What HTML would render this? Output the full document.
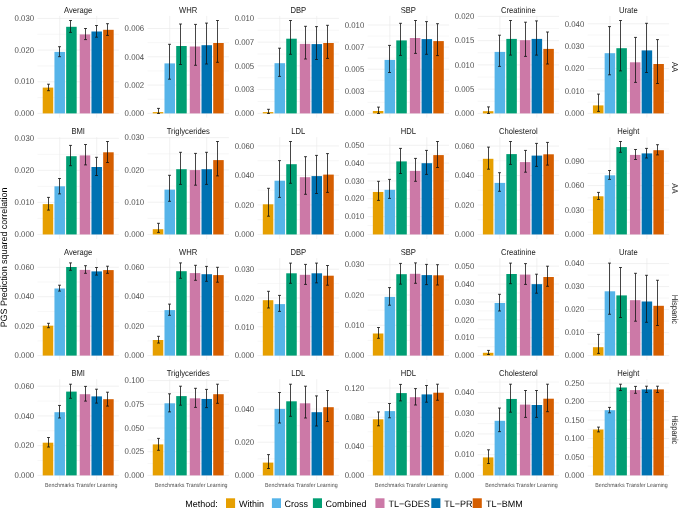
<!DOCTYPE html><html><head><meta charset="utf-8"><title>PGS Prediction</title><style>html,body{margin:0;padding:0;background:#fff;overflow:hidden}svg{display:block;will-change:transform;text-rendering:geometricPrecision}</style></head><body><svg width="685" height="508" viewBox="0 0 685 508" font-family="Liberation Sans, sans-serif">
<rect width="685" height="508" fill="#fff"/>
<path d="M37.50 97.58H118.90" stroke="#ebebeb" stroke-width="0.4"/><path d="M37.50 65.93H118.90" stroke="#ebebeb" stroke-width="0.4"/><path d="M37.50 34.28H118.90" stroke="#ebebeb" stroke-width="0.4"/><path d="M37.50 113.40H118.90" stroke="#ebebeb" stroke-width="0.7"/><path d="M37.50 81.75H118.90" stroke="#ebebeb" stroke-width="0.7"/><path d="M37.50 50.10H118.90" stroke="#ebebeb" stroke-width="0.7"/><path d="M37.50 18.45H118.90" stroke="#ebebeb" stroke-width="0.7"/><path d="M59.70 15.90V117.70" stroke="#ebebeb" stroke-width="0.7"/><path d="M96.70 15.90V117.70" stroke="#ebebeb" stroke-width="0.7"/><rect x="42.72" y="87.60" width="10.52" height="25.80" fill="#E69F00"/><rect x="54.44" y="51.90" width="10.52" height="61.50" fill="#56B4E9"/><rect x="66.16" y="26.80" width="10.52" height="86.60" fill="#009E73"/><rect x="79.72" y="34.40" width="10.52" height="79.00" fill="#CC79A7"/><rect x="91.44" y="31.50" width="10.52" height="81.90" fill="#0072B2"/><rect x="103.16" y="29.80" width="10.52" height="83.60" fill="#D55E00"/><path d="M47.00 84.20h3.0M47.00 90.70h3.0M48.50 84.20V90.70" stroke="#111" stroke-width="0.78" fill="none"/><path d="M58.00 46.70h3.0M58.00 56.70h3.0M59.50 46.70V56.70" stroke="#111" stroke-width="0.78" fill="none"/><path d="M69.00 20.50h3.0M69.00 32.40h3.0M70.50 20.50V32.40" stroke="#111" stroke-width="0.78" fill="none"/><path d="M84.00 28.50h3.0M84.00 39.60h3.0M85.50 28.50V39.60" stroke="#111" stroke-width="0.78" fill="none"/><path d="M95.00 25.50h3.0M95.00 37.20h3.0M96.50 25.50V37.20" stroke="#111" stroke-width="0.78" fill="none"/><path d="M106.00 23.70h3.0M106.00 35.40h3.0M107.50 23.70V35.40" stroke="#111" stroke-width="0.78" fill="none"/><text transform="translate(34.10 116.10) scale(1 1.08)" font-size="7.8" fill="#4d4d4d" text-anchor="end">0.000</text><text transform="translate(34.10 84.45) scale(1 1.08)" font-size="7.8" fill="#4d4d4d" text-anchor="end">0.010</text><text transform="translate(34.10 52.80) scale(1 1.08)" font-size="7.8" fill="#4d4d4d" text-anchor="end">0.020</text><text transform="translate(34.10 21.15) scale(1 1.08)" font-size="7.8" fill="#4d4d4d" text-anchor="end">0.030</text><text transform="translate(78.20 12.70) scale(1 1.12)" font-size="7.65" fill="#1a1a1a" text-anchor="middle">Average</text>
<path d="M147.54 99.25H228.94" stroke="#ebebeb" stroke-width="0.4"/><path d="M147.54 70.95H228.94" stroke="#ebebeb" stroke-width="0.4"/><path d="M147.54 42.65H228.94" stroke="#ebebeb" stroke-width="0.4"/><path d="M147.54 113.40H228.94" stroke="#ebebeb" stroke-width="0.7"/><path d="M147.54 85.10H228.94" stroke="#ebebeb" stroke-width="0.7"/><path d="M147.54 56.80H228.94" stroke="#ebebeb" stroke-width="0.7"/><path d="M147.54 28.50H228.94" stroke="#ebebeb" stroke-width="0.7"/><path d="M169.74 15.90V117.70" stroke="#ebebeb" stroke-width="0.7"/><path d="M206.74 15.90V117.70" stroke="#ebebeb" stroke-width="0.7"/><rect x="152.76" y="112.10" width="10.52" height="1.30" fill="#E69F00"/><rect x="164.48" y="63.40" width="10.52" height="50.00" fill="#56B4E9"/><rect x="176.20" y="46.00" width="10.52" height="67.40" fill="#009E73"/><rect x="189.76" y="46.50" width="10.52" height="66.90" fill="#CC79A7"/><rect x="201.48" y="45.20" width="10.52" height="68.20" fill="#0072B2"/><rect x="213.20" y="43.00" width="10.52" height="70.40" fill="#D55E00"/><path d="M157.00 108.40h3.0M157.00 113.50h3.0M158.50 108.40V113.50" stroke="#111" stroke-width="0.78" fill="none"/><path d="M168.00 44.30h3.0M168.00 79.20h3.0M169.50 44.30V79.20" stroke="#111" stroke-width="0.78" fill="none"/><path d="M179.00 24.00h3.0M179.00 64.50h3.0M180.50 24.00V64.50" stroke="#111" stroke-width="0.78" fill="none"/><path d="M194.00 24.40h3.0M194.00 65.30h3.0M195.50 24.40V65.30" stroke="#111" stroke-width="0.78" fill="none"/><path d="M205.00 23.10h3.0M205.00 64.00h3.0M206.50 23.10V64.00" stroke="#111" stroke-width="0.78" fill="none"/><path d="M216.00 20.50h3.0M216.00 62.30h3.0M217.50 20.50V62.30" stroke="#111" stroke-width="0.78" fill="none"/><text transform="translate(144.14 116.10) scale(1 1.08)" font-size="7.8" fill="#4d4d4d" text-anchor="end">0.000</text><text transform="translate(144.14 87.80) scale(1 1.08)" font-size="7.8" fill="#4d4d4d" text-anchor="end">0.002</text><text transform="translate(144.14 59.50) scale(1 1.08)" font-size="7.8" fill="#4d4d4d" text-anchor="end">0.004</text><text transform="translate(144.14 31.20) scale(1 1.08)" font-size="7.8" fill="#4d4d4d" text-anchor="end">0.006</text><text transform="translate(188.24 12.70) scale(1 1.12)" font-size="7.65" fill="#1a1a1a" text-anchor="middle">WHR</text>
<path d="M257.58 101.52H338.98" stroke="#ebebeb" stroke-width="0.4"/><path d="M257.58 77.76H338.98" stroke="#ebebeb" stroke-width="0.4"/><path d="M257.58 54.00H338.98" stroke="#ebebeb" stroke-width="0.4"/><path d="M257.58 30.24H338.98" stroke="#ebebeb" stroke-width="0.4"/><path d="M257.58 113.40H338.98" stroke="#ebebeb" stroke-width="0.7"/><path d="M257.58 89.64H338.98" stroke="#ebebeb" stroke-width="0.7"/><path d="M257.58 65.88H338.98" stroke="#ebebeb" stroke-width="0.7"/><path d="M257.58 42.12H338.98" stroke="#ebebeb" stroke-width="0.7"/><path d="M257.58 18.36H338.98" stroke="#ebebeb" stroke-width="0.7"/><path d="M279.78 15.90V117.70" stroke="#ebebeb" stroke-width="0.7"/><path d="M316.78 15.90V117.70" stroke="#ebebeb" stroke-width="0.7"/><rect x="262.80" y="112.10" width="10.52" height="1.30" fill="#E69F00"/><rect x="274.52" y="63.20" width="10.52" height="50.20" fill="#56B4E9"/><rect x="286.24" y="38.70" width="10.52" height="74.70" fill="#009E73"/><rect x="299.80" y="43.90" width="10.52" height="69.50" fill="#CC79A7"/><rect x="311.52" y="44.10" width="10.52" height="69.30" fill="#0072B2"/><rect x="323.24" y="43.00" width="10.52" height="70.40" fill="#D55E00"/><path d="M267.00 109.30h3.0M267.00 113.50h3.0M268.50 109.30V113.50" stroke="#111" stroke-width="0.78" fill="none"/><path d="M278.00 48.20h3.0M278.00 76.40h3.0M279.50 48.20V76.40" stroke="#111" stroke-width="0.78" fill="none"/><path d="M289.00 20.50h3.0M289.00 54.30h3.0M290.50 20.50V54.30" stroke="#111" stroke-width="0.78" fill="none"/><path d="M304.00 26.30h3.0M304.00 59.00h3.0M305.50 26.30V59.00" stroke="#111" stroke-width="0.78" fill="none"/><path d="M315.00 26.60h3.0M315.00 59.50h3.0M316.50 26.60V59.50" stroke="#111" stroke-width="0.78" fill="none"/><path d="M326.00 25.30h3.0M326.00 58.40h3.0M327.50 25.30V58.40" stroke="#111" stroke-width="0.78" fill="none"/><text transform="translate(254.18 116.10) scale(1 1.08)" font-size="7.8" fill="#4d4d4d" text-anchor="end">0.000</text><text transform="translate(254.18 92.34) scale(1 1.08)" font-size="7.8" fill="#4d4d4d" text-anchor="end">0.003</text><text transform="translate(254.18 68.58) scale(1 1.08)" font-size="7.8" fill="#4d4d4d" text-anchor="end">0.005</text><text transform="translate(254.18 44.82) scale(1 1.08)" font-size="7.8" fill="#4d4d4d" text-anchor="end">0.007</text><text transform="translate(254.18 21.06) scale(1 1.08)" font-size="7.8" fill="#4d4d4d" text-anchor="end">0.010</text><text transform="translate(298.28 12.70) scale(1 1.12)" font-size="7.65" fill="#1a1a1a" text-anchor="middle">DBP</text>
<path d="M367.62 102.35H449.02" stroke="#ebebeb" stroke-width="0.4"/><path d="M367.62 80.25H449.02" stroke="#ebebeb" stroke-width="0.4"/><path d="M367.62 58.15H449.02" stroke="#ebebeb" stroke-width="0.4"/><path d="M367.62 36.05H449.02" stroke="#ebebeb" stroke-width="0.4"/><path d="M367.62 113.40H449.02" stroke="#ebebeb" stroke-width="0.7"/><path d="M367.62 91.30H449.02" stroke="#ebebeb" stroke-width="0.7"/><path d="M367.62 69.20H449.02" stroke="#ebebeb" stroke-width="0.7"/><path d="M367.62 47.10H449.02" stroke="#ebebeb" stroke-width="0.7"/><path d="M367.62 25.00H449.02" stroke="#ebebeb" stroke-width="0.7"/><path d="M389.82 15.90V117.70" stroke="#ebebeb" stroke-width="0.7"/><path d="M426.82 15.90V117.70" stroke="#ebebeb" stroke-width="0.7"/><rect x="372.84" y="111.00" width="10.52" height="2.40" fill="#E69F00"/><rect x="384.56" y="59.90" width="10.52" height="53.50" fill="#56B4E9"/><rect x="396.28" y="40.40" width="10.52" height="73.00" fill="#009E73"/><rect x="409.84" y="38.00" width="10.52" height="75.40" fill="#CC79A7"/><rect x="421.56" y="39.10" width="10.52" height="74.30" fill="#0072B2"/><rect x="433.28" y="41.10" width="10.52" height="72.30" fill="#D55E00"/><path d="M377.00 107.10h3.0M377.00 113.50h3.0M378.50 107.10V113.50" stroke="#111" stroke-width="0.78" fill="none"/><path d="M388.00 45.40h3.0M388.00 72.50h3.0M389.50 45.40V72.50" stroke="#111" stroke-width="0.78" fill="none"/><path d="M399.00 23.30h3.0M399.00 55.40h3.0M400.50 23.30V55.40" stroke="#111" stroke-width="0.78" fill="none"/><path d="M414.00 20.50h3.0M414.00 53.40h3.0M415.50 20.50V53.40" stroke="#111" stroke-width="0.78" fill="none"/><path d="M425.00 21.60h3.0M425.00 54.30h3.0M426.50 21.60V54.30" stroke="#111" stroke-width="0.78" fill="none"/><path d="M436.00 23.70h3.0M436.00 55.60h3.0M437.50 23.70V55.60" stroke="#111" stroke-width="0.78" fill="none"/><text transform="translate(364.22 116.10) scale(1 1.08)" font-size="7.8" fill="#4d4d4d" text-anchor="end">0.000</text><text transform="translate(364.22 94.00) scale(1 1.08)" font-size="7.8" fill="#4d4d4d" text-anchor="end">0.003</text><text transform="translate(364.22 71.90) scale(1 1.08)" font-size="7.8" fill="#4d4d4d" text-anchor="end">0.005</text><text transform="translate(364.22 49.80) scale(1 1.08)" font-size="7.8" fill="#4d4d4d" text-anchor="end">0.007</text><text transform="translate(364.22 27.70) scale(1 1.08)" font-size="7.8" fill="#4d4d4d" text-anchor="end">0.010</text><text transform="translate(408.32 12.70) scale(1 1.12)" font-size="7.65" fill="#1a1a1a" text-anchor="middle">SBP</text>
<path d="M477.66 101.28H559.06" stroke="#ebebeb" stroke-width="0.4"/><path d="M477.66 77.03H559.06" stroke="#ebebeb" stroke-width="0.4"/><path d="M477.66 52.78H559.06" stroke="#ebebeb" stroke-width="0.4"/><path d="M477.66 28.53H559.06" stroke="#ebebeb" stroke-width="0.4"/><path d="M477.66 113.40H559.06" stroke="#ebebeb" stroke-width="0.7"/><path d="M477.66 89.15H559.06" stroke="#ebebeb" stroke-width="0.7"/><path d="M477.66 64.90H559.06" stroke="#ebebeb" stroke-width="0.7"/><path d="M477.66 40.65H559.06" stroke="#ebebeb" stroke-width="0.7"/><path d="M477.66 16.40H559.06" stroke="#ebebeb" stroke-width="0.7"/><path d="M499.86 15.90V117.70" stroke="#ebebeb" stroke-width="0.7"/><path d="M536.86 15.90V117.70" stroke="#ebebeb" stroke-width="0.7"/><rect x="482.88" y="111.20" width="10.52" height="2.20" fill="#E69F00"/><rect x="494.60" y="51.90" width="10.52" height="61.50" fill="#56B4E9"/><rect x="506.32" y="38.90" width="10.52" height="74.50" fill="#009E73"/><rect x="519.88" y="40.20" width="10.52" height="73.20" fill="#CC79A7"/><rect x="531.60" y="38.90" width="10.52" height="74.50" fill="#0072B2"/><rect x="543.32" y="48.90" width="10.52" height="64.50" fill="#D55E00"/><path d="M487.00 106.90h3.0M487.00 113.50h3.0M488.50 106.90V113.50" stroke="#111" stroke-width="0.78" fill="none"/><path d="M498.00 35.20h3.0M498.00 66.40h3.0M499.50 35.20V66.40" stroke="#111" stroke-width="0.78" fill="none"/><path d="M509.00 20.50h3.0M509.00 55.10h3.0M510.50 20.50V55.10" stroke="#111" stroke-width="0.78" fill="none"/><path d="M524.00 22.20h3.0M524.00 56.40h3.0M525.50 22.20V56.40" stroke="#111" stroke-width="0.78" fill="none"/><path d="M535.00 20.90h3.0M535.00 55.10h3.0M536.50 20.90V55.10" stroke="#111" stroke-width="0.78" fill="none"/><path d="M546.00 32.00h3.0M546.00 64.00h3.0M547.50 32.00V64.00" stroke="#111" stroke-width="0.78" fill="none"/><text transform="translate(474.26 116.10) scale(1 1.08)" font-size="7.8" fill="#4d4d4d" text-anchor="end">0.000</text><text transform="translate(474.26 91.85) scale(1 1.08)" font-size="7.8" fill="#4d4d4d" text-anchor="end">0.005</text><text transform="translate(474.26 67.60) scale(1 1.08)" font-size="7.8" fill="#4d4d4d" text-anchor="end">0.010</text><text transform="translate(474.26 43.35) scale(1 1.08)" font-size="7.8" fill="#4d4d4d" text-anchor="end">0.015</text><text transform="translate(474.26 19.10) scale(1 1.08)" font-size="7.8" fill="#4d4d4d" text-anchor="end">0.020</text><text transform="translate(518.36 12.70) scale(1 1.12)" font-size="7.65" fill="#1a1a1a" text-anchor="middle">Creatinine</text>
<path d="M587.70 102.20H669.10" stroke="#ebebeb" stroke-width="0.4"/><path d="M587.70 79.80H669.10" stroke="#ebebeb" stroke-width="0.4"/><path d="M587.70 57.40H669.10" stroke="#ebebeb" stroke-width="0.4"/><path d="M587.70 35.00H669.10" stroke="#ebebeb" stroke-width="0.4"/><path d="M587.70 113.40H669.10" stroke="#ebebeb" stroke-width="0.7"/><path d="M587.70 91.00H669.10" stroke="#ebebeb" stroke-width="0.7"/><path d="M587.70 68.60H669.10" stroke="#ebebeb" stroke-width="0.7"/><path d="M587.70 46.20H669.10" stroke="#ebebeb" stroke-width="0.7"/><path d="M587.70 23.80H669.10" stroke="#ebebeb" stroke-width="0.7"/><path d="M609.90 15.90V117.70" stroke="#ebebeb" stroke-width="0.7"/><path d="M646.90 15.90V117.70" stroke="#ebebeb" stroke-width="0.7"/><rect x="592.92" y="105.40" width="10.52" height="8.00" fill="#E69F00"/><rect x="604.64" y="53.20" width="10.52" height="60.20" fill="#56B4E9"/><rect x="616.36" y="48.20" width="10.52" height="65.20" fill="#009E73"/><rect x="629.92" y="62.30" width="10.52" height="51.10" fill="#CC79A7"/><rect x="641.64" y="50.40" width="10.52" height="63.00" fill="#0072B2"/><rect x="653.36" y="64.00" width="10.52" height="49.40" fill="#D55E00"/><path d="M597.00 94.10h3.0M597.00 111.40h3.0M598.50 94.10V111.40" stroke="#111" stroke-width="0.78" fill="none"/><path d="M608.00 26.60h3.0M608.00 74.80h3.0M609.50 26.60V74.80" stroke="#111" stroke-width="0.78" fill="none"/><path d="M619.00 20.50h3.0M619.00 70.90h3.0M620.50 20.50V70.90" stroke="#111" stroke-width="0.78" fill="none"/><path d="M634.00 37.40h3.0M634.00 82.40h3.0M635.50 37.40V82.40" stroke="#111" stroke-width="0.78" fill="none"/><path d="M645.00 23.30h3.0M645.00 72.50h3.0M646.50 23.30V72.50" stroke="#111" stroke-width="0.78" fill="none"/><path d="M656.00 39.60h3.0M656.00 83.50h3.0M657.50 39.60V83.50" stroke="#111" stroke-width="0.78" fill="none"/><text transform="translate(584.30 116.10) scale(1 1.08)" font-size="7.8" fill="#4d4d4d" text-anchor="end">0.000</text><text transform="translate(584.30 93.70) scale(1 1.08)" font-size="7.8" fill="#4d4d4d" text-anchor="end">0.010</text><text transform="translate(584.30 71.30) scale(1 1.08)" font-size="7.8" fill="#4d4d4d" text-anchor="end">0.020</text><text transform="translate(584.30 48.90) scale(1 1.08)" font-size="7.8" fill="#4d4d4d" text-anchor="end">0.030</text><text transform="translate(584.30 26.50) scale(1 1.08)" font-size="7.8" fill="#4d4d4d" text-anchor="end">0.040</text><text transform="translate(628.40 12.70) scale(1 1.12)" font-size="7.65" fill="#1a1a1a" text-anchor="middle">Urate</text>
<text transform="translate(672.00 67.10) rotate(90) scale(1 1.12)" font-size="7.65" fill="#1a1a1a" text-anchor="middle">AA</text>
<path d="M37.50 218.42H118.90" stroke="#ebebeb" stroke-width="0.4"/><path d="M37.50 186.38H118.90" stroke="#ebebeb" stroke-width="0.4"/><path d="M37.50 154.32H118.90" stroke="#ebebeb" stroke-width="0.4"/><path d="M37.50 234.45H118.90" stroke="#ebebeb" stroke-width="0.7"/><path d="M37.50 202.40H118.90" stroke="#ebebeb" stroke-width="0.7"/><path d="M37.50 170.35H118.90" stroke="#ebebeb" stroke-width="0.7"/><path d="M37.50 138.30H118.90" stroke="#ebebeb" stroke-width="0.7"/><path d="M59.70 137.20V239.00" stroke="#ebebeb" stroke-width="0.7"/><path d="M96.70 137.20V239.00" stroke="#ebebeb" stroke-width="0.7"/><rect x="42.72" y="204.10" width="10.52" height="30.35" fill="#E69F00"/><rect x="54.44" y="186.30" width="10.52" height="48.15" fill="#56B4E9"/><rect x="66.16" y="156.20" width="10.52" height="78.25" fill="#009E73"/><rect x="79.72" y="155.40" width="10.52" height="79.05" fill="#CC79A7"/><rect x="91.44" y="167.00" width="10.52" height="67.45" fill="#0072B2"/><rect x="103.16" y="152.30" width="10.52" height="82.15" fill="#D55E00"/><path d="M47.00 197.40h3.0M47.00 210.10h3.0M48.50 197.40V210.10" stroke="#111" stroke-width="0.78" fill="none"/><path d="M58.00 178.50h3.0M58.00 193.90h3.0M59.50 178.50V193.90" stroke="#111" stroke-width="0.78" fill="none"/><path d="M69.00 145.40h3.0M69.00 165.70h3.0M70.50 145.40V165.70" stroke="#111" stroke-width="0.78" fill="none"/><path d="M84.00 144.50h3.0M84.00 164.90h3.0M85.50 144.50V164.90" stroke="#111" stroke-width="0.78" fill="none"/><path d="M95.00 157.30h3.0M95.00 175.50h3.0M96.50 157.30V175.50" stroke="#111" stroke-width="0.78" fill="none"/><path d="M106.00 141.50h3.0M106.00 162.50h3.0M107.50 141.50V162.50" stroke="#111" stroke-width="0.78" fill="none"/><text transform="translate(34.10 237.15) scale(1 1.08)" font-size="7.8" fill="#4d4d4d" text-anchor="end">0.000</text><text transform="translate(34.10 205.10) scale(1 1.08)" font-size="7.8" fill="#4d4d4d" text-anchor="end">0.010</text><text transform="translate(34.10 173.05) scale(1 1.08)" font-size="7.8" fill="#4d4d4d" text-anchor="end">0.020</text><text transform="translate(34.10 141.00) scale(1 1.08)" font-size="7.8" fill="#4d4d4d" text-anchor="end">0.030</text><text transform="translate(78.20 134.00) scale(1 1.12)" font-size="7.65" fill="#1a1a1a" text-anchor="middle">BMI</text>
<path d="M147.54 218.32H228.94" stroke="#ebebeb" stroke-width="0.4"/><path d="M147.54 186.06H228.94" stroke="#ebebeb" stroke-width="0.4"/><path d="M147.54 153.80H228.94" stroke="#ebebeb" stroke-width="0.4"/><path d="M147.54 234.45H228.94" stroke="#ebebeb" stroke-width="0.7"/><path d="M147.54 202.19H228.94" stroke="#ebebeb" stroke-width="0.7"/><path d="M147.54 169.93H228.94" stroke="#ebebeb" stroke-width="0.7"/><path d="M147.54 137.67H228.94" stroke="#ebebeb" stroke-width="0.7"/><path d="M169.74 137.20V239.00" stroke="#ebebeb" stroke-width="0.7"/><path d="M206.74 137.20V239.00" stroke="#ebebeb" stroke-width="0.7"/><rect x="152.76" y="229.20" width="10.52" height="5.25" fill="#E69F00"/><rect x="164.48" y="189.60" width="10.52" height="44.85" fill="#56B4E9"/><rect x="176.20" y="169.20" width="10.52" height="65.25" fill="#009E73"/><rect x="189.76" y="170.10" width="10.52" height="64.35" fill="#CC79A7"/><rect x="201.48" y="169.20" width="10.52" height="65.25" fill="#0072B2"/><rect x="213.20" y="160.10" width="10.52" height="74.35" fill="#D55E00"/><path d="M157.00 223.30h3.0M157.00 232.40h3.0M158.50 223.30V232.40" stroke="#111" stroke-width="0.78" fill="none"/><path d="M168.00 175.30h3.0M168.00 201.30h3.0M169.50 175.30V201.30" stroke="#111" stroke-width="0.78" fill="none"/><path d="M179.00 152.30h3.0M179.00 184.40h3.0M180.50 152.30V184.40" stroke="#111" stroke-width="0.78" fill="none"/><path d="M194.00 153.40h3.0M194.00 185.20h3.0M195.50 153.40V185.20" stroke="#111" stroke-width="0.78" fill="none"/><path d="M205.00 152.30h3.0M205.00 184.40h3.0M206.50 152.30V184.40" stroke="#111" stroke-width="0.78" fill="none"/><path d="M216.00 141.50h3.0M216.00 175.90h3.0M217.50 141.50V175.90" stroke="#111" stroke-width="0.78" fill="none"/><text transform="translate(144.14 237.15) scale(1 1.08)" font-size="7.8" fill="#4d4d4d" text-anchor="end">0.000</text><text transform="translate(144.14 204.89) scale(1 1.08)" font-size="7.8" fill="#4d4d4d" text-anchor="end">0.010</text><text transform="translate(144.14 172.63) scale(1 1.08)" font-size="7.8" fill="#4d4d4d" text-anchor="end">0.020</text><text transform="translate(144.14 140.37) scale(1 1.08)" font-size="7.8" fill="#4d4d4d" text-anchor="end">0.030</text><text transform="translate(188.24 134.00) scale(1 1.12)" font-size="7.65" fill="#1a1a1a" text-anchor="middle">Triglycerides</text>
<path d="M257.58 219.70H338.98" stroke="#ebebeb" stroke-width="0.4"/><path d="M257.58 190.20H338.98" stroke="#ebebeb" stroke-width="0.4"/><path d="M257.58 160.70H338.98" stroke="#ebebeb" stroke-width="0.4"/><path d="M257.58 234.45H338.98" stroke="#ebebeb" stroke-width="0.7"/><path d="M257.58 204.95H338.98" stroke="#ebebeb" stroke-width="0.7"/><path d="M257.58 175.45H338.98" stroke="#ebebeb" stroke-width="0.7"/><path d="M257.58 145.95H338.98" stroke="#ebebeb" stroke-width="0.7"/><path d="M279.78 137.20V239.00" stroke="#ebebeb" stroke-width="0.7"/><path d="M316.78 137.20V239.00" stroke="#ebebeb" stroke-width="0.7"/><rect x="262.80" y="204.30" width="10.52" height="30.15" fill="#E69F00"/><rect x="274.52" y="180.70" width="10.52" height="53.75" fill="#56B4E9"/><rect x="286.24" y="164.20" width="10.52" height="70.25" fill="#009E73"/><rect x="299.80" y="177.20" width="10.52" height="57.25" fill="#CC79A7"/><rect x="311.52" y="176.10" width="10.52" height="58.35" fill="#0072B2"/><rect x="323.24" y="174.60" width="10.52" height="59.85" fill="#D55E00"/><path d="M267.00 188.30h3.0M267.00 216.20h3.0M268.50 188.30V216.20" stroke="#111" stroke-width="0.78" fill="none"/><path d="M278.00 160.60h3.0M278.00 197.40h3.0M279.50 160.60V197.40" stroke="#111" stroke-width="0.78" fill="none"/><path d="M289.00 141.50h3.0M289.00 183.30h3.0M290.50 141.50V183.30" stroke="#111" stroke-width="0.78" fill="none"/><path d="M304.00 156.70h3.0M304.00 194.30h3.0M305.50 156.70V194.30" stroke="#111" stroke-width="0.78" fill="none"/><path d="M315.00 155.40h3.0M315.00 193.50h3.0M316.50 155.40V193.50" stroke="#111" stroke-width="0.78" fill="none"/><path d="M326.00 153.60h3.0M326.00 192.40h3.0M327.50 153.60V192.40" stroke="#111" stroke-width="0.78" fill="none"/><text transform="translate(254.18 237.15) scale(1 1.08)" font-size="7.8" fill="#4d4d4d" text-anchor="end">0.000</text><text transform="translate(254.18 207.65) scale(1 1.08)" font-size="7.8" fill="#4d4d4d" text-anchor="end">0.020</text><text transform="translate(254.18 178.15) scale(1 1.08)" font-size="7.8" fill="#4d4d4d" text-anchor="end">0.040</text><text transform="translate(254.18 148.65) scale(1 1.08)" font-size="7.8" fill="#4d4d4d" text-anchor="end">0.060</text><text transform="translate(298.28 134.00) scale(1 1.12)" font-size="7.65" fill="#1a1a1a" text-anchor="middle">LDL</text>
<path d="M367.62 225.53H449.02" stroke="#ebebeb" stroke-width="0.4"/><path d="M367.62 207.69H449.02" stroke="#ebebeb" stroke-width="0.4"/><path d="M367.62 189.85H449.02" stroke="#ebebeb" stroke-width="0.4"/><path d="M367.62 172.01H449.02" stroke="#ebebeb" stroke-width="0.4"/><path d="M367.62 154.17H449.02" stroke="#ebebeb" stroke-width="0.4"/><path d="M367.62 234.45H449.02" stroke="#ebebeb" stroke-width="0.7"/><path d="M367.62 216.61H449.02" stroke="#ebebeb" stroke-width="0.7"/><path d="M367.62 198.77H449.02" stroke="#ebebeb" stroke-width="0.7"/><path d="M367.62 180.93H449.02" stroke="#ebebeb" stroke-width="0.7"/><path d="M367.62 163.09H449.02" stroke="#ebebeb" stroke-width="0.7"/><path d="M367.62 145.25H449.02" stroke="#ebebeb" stroke-width="0.7"/><path d="M389.82 137.20V239.00" stroke="#ebebeb" stroke-width="0.7"/><path d="M426.82 137.20V239.00" stroke="#ebebeb" stroke-width="0.7"/><rect x="372.84" y="191.95" width="10.52" height="42.50" fill="#E69F00"/><rect x="384.56" y="189.80" width="10.52" height="44.65" fill="#56B4E9"/><rect x="396.28" y="161.40" width="10.52" height="73.05" fill="#009E73"/><rect x="409.84" y="170.90" width="10.52" height="63.55" fill="#CC79A7"/><rect x="421.56" y="163.20" width="10.52" height="71.25" fill="#0072B2"/><rect x="433.28" y="155.10" width="10.52" height="79.35" fill="#D55E00"/><path d="M377.00 181.30h3.0M377.00 200.40h3.0M378.50 181.30V200.40" stroke="#111" stroke-width="0.78" fill="none"/><path d="M388.00 179.40h3.0M388.00 198.40h3.0M389.50 179.40V198.40" stroke="#111" stroke-width="0.78" fill="none"/><path d="M399.00 148.40h3.0M399.00 173.50h3.0M400.50 148.40V173.50" stroke="#111" stroke-width="0.78" fill="none"/><path d="M414.00 158.40h3.0M414.00 181.30h3.0M415.50 158.40V181.30" stroke="#111" stroke-width="0.78" fill="none"/><path d="M425.00 150.40h3.0M425.00 174.40h3.0M426.50 150.40V174.40" stroke="#111" stroke-width="0.78" fill="none"/><path d="M436.00 141.50h3.0M436.00 167.50h3.0M437.50 141.50V167.50" stroke="#111" stroke-width="0.78" fill="none"/><text transform="translate(364.22 237.15) scale(1 1.08)" font-size="7.8" fill="#4d4d4d" text-anchor="end">0.000</text><text transform="translate(364.22 219.31) scale(1 1.08)" font-size="7.8" fill="#4d4d4d" text-anchor="end">0.010</text><text transform="translate(364.22 201.47) scale(1 1.08)" font-size="7.8" fill="#4d4d4d" text-anchor="end">0.020</text><text transform="translate(364.22 183.63) scale(1 1.08)" font-size="7.8" fill="#4d4d4d" text-anchor="end">0.030</text><text transform="translate(364.22 165.79) scale(1 1.08)" font-size="7.8" fill="#4d4d4d" text-anchor="end">0.040</text><text transform="translate(364.22 147.95) scale(1 1.08)" font-size="7.8" fill="#4d4d4d" text-anchor="end">0.050</text><text transform="translate(408.32 134.00) scale(1 1.12)" font-size="7.65" fill="#1a1a1a" text-anchor="middle">HDL</text>
<path d="M477.66 219.72H559.06" stroke="#ebebeb" stroke-width="0.4"/><path d="M477.66 190.27H559.06" stroke="#ebebeb" stroke-width="0.4"/><path d="M477.66 160.82H559.06" stroke="#ebebeb" stroke-width="0.4"/><path d="M477.66 234.45H559.06" stroke="#ebebeb" stroke-width="0.7"/><path d="M477.66 205.00H559.06" stroke="#ebebeb" stroke-width="0.7"/><path d="M477.66 175.55H559.06" stroke="#ebebeb" stroke-width="0.7"/><path d="M477.66 146.10H559.06" stroke="#ebebeb" stroke-width="0.7"/><path d="M499.86 137.20V239.00" stroke="#ebebeb" stroke-width="0.7"/><path d="M536.86 137.20V239.00" stroke="#ebebeb" stroke-width="0.7"/><rect x="482.88" y="158.80" width="10.52" height="75.65" fill="#E69F00"/><rect x="494.60" y="182.90" width="10.52" height="51.55" fill="#56B4E9"/><rect x="506.32" y="154.10" width="10.52" height="80.35" fill="#009E73"/><rect x="519.88" y="162.10" width="10.52" height="72.35" fill="#CC79A7"/><rect x="531.60" y="155.60" width="10.52" height="78.85" fill="#0072B2"/><rect x="543.32" y="154.30" width="10.52" height="80.15" fill="#D55E00"/><path d="M487.00 147.10h3.0M487.00 169.20h3.0M488.50 147.10V169.20" stroke="#111" stroke-width="0.78" fill="none"/><path d="M498.00 172.70h3.0M498.00 191.30h3.0M499.50 172.70V191.30" stroke="#111" stroke-width="0.78" fill="none"/><path d="M509.00 141.50h3.0M509.00 164.40h3.0M510.50 141.50V164.40" stroke="#111" stroke-width="0.78" fill="none"/><path d="M524.00 150.40h3.0M524.00 172.20h3.0M525.50 150.40V172.20" stroke="#111" stroke-width="0.78" fill="none"/><path d="M535.00 143.40h3.0M535.00 166.40h3.0M536.50 143.40V166.40" stroke="#111" stroke-width="0.78" fill="none"/><path d="M546.00 142.40h3.0M546.00 165.10h3.0M547.50 142.40V165.10" stroke="#111" stroke-width="0.78" fill="none"/><text transform="translate(474.26 237.15) scale(1 1.08)" font-size="7.8" fill="#4d4d4d" text-anchor="end">0.000</text><text transform="translate(474.26 207.70) scale(1 1.08)" font-size="7.8" fill="#4d4d4d" text-anchor="end">0.020</text><text transform="translate(474.26 178.25) scale(1 1.08)" font-size="7.8" fill="#4d4d4d" text-anchor="end">0.040</text><text transform="translate(474.26 148.80) scale(1 1.08)" font-size="7.8" fill="#4d4d4d" text-anchor="end">0.060</text><text transform="translate(518.36 134.00) scale(1 1.12)" font-size="7.65" fill="#1a1a1a" text-anchor="middle">Cholesterol</text>
<path d="M587.70 222.23H669.10" stroke="#ebebeb" stroke-width="0.4"/><path d="M587.70 197.81H669.10" stroke="#ebebeb" stroke-width="0.4"/><path d="M587.70 173.38H669.10" stroke="#ebebeb" stroke-width="0.4"/><path d="M587.70 148.94H669.10" stroke="#ebebeb" stroke-width="0.4"/><path d="M587.70 234.45H669.10" stroke="#ebebeb" stroke-width="0.7"/><path d="M587.70 210.02H669.10" stroke="#ebebeb" stroke-width="0.7"/><path d="M587.70 185.59H669.10" stroke="#ebebeb" stroke-width="0.7"/><path d="M587.70 161.16H669.10" stroke="#ebebeb" stroke-width="0.7"/><path d="M609.90 137.20V239.00" stroke="#ebebeb" stroke-width="0.7"/><path d="M646.90 137.20V239.00" stroke="#ebebeb" stroke-width="0.7"/><rect x="592.92" y="196.30" width="10.52" height="38.15" fill="#E69F00"/><rect x="604.64" y="175.30" width="10.52" height="59.15" fill="#56B4E9"/><rect x="616.36" y="147.10" width="10.52" height="87.35" fill="#009E73"/><rect x="629.92" y="154.90" width="10.52" height="79.55" fill="#CC79A7"/><rect x="641.64" y="153.40" width="10.52" height="81.05" fill="#0072B2"/><rect x="653.36" y="150.20" width="10.52" height="84.25" fill="#D55E00"/><path d="M597.00 192.40h3.0M597.00 199.50h3.0M598.50 192.40V199.50" stroke="#111" stroke-width="0.78" fill="none"/><path d="M608.00 170.50h3.0M608.00 179.40h3.0M609.50 170.50V179.40" stroke="#111" stroke-width="0.78" fill="none"/><path d="M619.00 141.50h3.0M619.00 152.30h3.0M620.50 141.50V152.30" stroke="#111" stroke-width="0.78" fill="none"/><path d="M634.00 149.50h3.0M634.00 159.50h3.0M635.50 149.50V159.50" stroke="#111" stroke-width="0.78" fill="none"/><path d="M645.00 148.40h3.0M645.00 158.00h3.0M646.50 148.40V158.00" stroke="#111" stroke-width="0.78" fill="none"/><path d="M656.00 144.70h3.0M656.00 154.90h3.0M657.50 144.70V154.90" stroke="#111" stroke-width="0.78" fill="none"/><text transform="translate(584.30 237.15) scale(1 1.08)" font-size="7.8" fill="#4d4d4d" text-anchor="end">0.000</text><text transform="translate(584.30 212.72) scale(1 1.08)" font-size="7.8" fill="#4d4d4d" text-anchor="end">0.030</text><text transform="translate(584.30 188.29) scale(1 1.08)" font-size="7.8" fill="#4d4d4d" text-anchor="end">0.060</text><text transform="translate(584.30 163.86) scale(1 1.08)" font-size="7.8" fill="#4d4d4d" text-anchor="end">0.090</text><text transform="translate(628.40 134.00) scale(1 1.12)" font-size="7.65" fill="#1a1a1a" text-anchor="middle">Height</text>
<text transform="translate(672.00 188.40) rotate(90) scale(1 1.12)" font-size="7.65" fill="#1a1a1a" text-anchor="middle">AA</text>
<path d="M37.50 340.88H118.90" stroke="#ebebeb" stroke-width="0.4"/><path d="M37.50 311.43H118.90" stroke="#ebebeb" stroke-width="0.4"/><path d="M37.50 281.98H118.90" stroke="#ebebeb" stroke-width="0.4"/><path d="M37.50 355.60H118.90" stroke="#ebebeb" stroke-width="0.7"/><path d="M37.50 326.15H118.90" stroke="#ebebeb" stroke-width="0.7"/><path d="M37.50 296.70H118.90" stroke="#ebebeb" stroke-width="0.7"/><path d="M37.50 267.25H118.90" stroke="#ebebeb" stroke-width="0.7"/><path d="M59.70 258.20V360.00" stroke="#ebebeb" stroke-width="0.7"/><path d="M96.70 258.20V360.00" stroke="#ebebeb" stroke-width="0.7"/><rect x="42.72" y="325.70" width="10.52" height="29.90" fill="#E69F00"/><rect x="54.44" y="288.50" width="10.52" height="67.10" fill="#56B4E9"/><rect x="66.16" y="267.00" width="10.52" height="88.60" fill="#009E73"/><rect x="79.72" y="269.90" width="10.52" height="85.70" fill="#CC79A7"/><rect x="91.44" y="271.40" width="10.52" height="84.20" fill="#0072B2"/><rect x="103.16" y="270.10" width="10.52" height="85.50" fill="#D55E00"/><path d="M47.00 323.30h3.0M47.00 327.70h3.0M48.50 323.30V327.70" stroke="#111" stroke-width="0.78" fill="none"/><path d="M58.00 285.20h3.0M58.00 291.10h3.0M59.50 285.20V291.10" stroke="#111" stroke-width="0.78" fill="none"/><path d="M69.00 262.90h3.0M69.00 270.30h3.0M70.50 262.90V270.30" stroke="#111" stroke-width="0.78" fill="none"/><path d="M84.00 265.70h3.0M84.00 273.30h3.0M85.50 265.70V273.30" stroke="#111" stroke-width="0.78" fill="none"/><path d="M95.00 267.50h3.0M95.00 275.10h3.0M96.50 267.50V275.10" stroke="#111" stroke-width="0.78" fill="none"/><path d="M106.00 266.20h3.0M106.00 273.30h3.0M107.50 266.20V273.30" stroke="#111" stroke-width="0.78" fill="none"/><text transform="translate(34.10 358.30) scale(1 1.08)" font-size="7.8" fill="#4d4d4d" text-anchor="end">0.000</text><text transform="translate(34.10 328.85) scale(1 1.08)" font-size="7.8" fill="#4d4d4d" text-anchor="end">0.020</text><text transform="translate(34.10 299.40) scale(1 1.08)" font-size="7.8" fill="#4d4d4d" text-anchor="end">0.040</text><text transform="translate(34.10 269.95) scale(1 1.08)" font-size="7.8" fill="#4d4d4d" text-anchor="end">0.060</text><text transform="translate(78.20 255.00) scale(1 1.12)" font-size="7.65" fill="#1a1a1a" text-anchor="middle">Average</text>
<path d="M147.54 340.88H228.94" stroke="#ebebeb" stroke-width="0.4"/><path d="M147.54 311.43H228.94" stroke="#ebebeb" stroke-width="0.4"/><path d="M147.54 281.98H228.94" stroke="#ebebeb" stroke-width="0.4"/><path d="M147.54 355.60H228.94" stroke="#ebebeb" stroke-width="0.7"/><path d="M147.54 326.15H228.94" stroke="#ebebeb" stroke-width="0.7"/><path d="M147.54 296.70H228.94" stroke="#ebebeb" stroke-width="0.7"/><path d="M147.54 267.25H228.94" stroke="#ebebeb" stroke-width="0.7"/><path d="M169.74 258.20V360.00" stroke="#ebebeb" stroke-width="0.7"/><path d="M206.74 258.20V360.00" stroke="#ebebeb" stroke-width="0.7"/><rect x="152.76" y="340.00" width="10.52" height="15.60" fill="#E69F00"/><rect x="164.48" y="310.10" width="10.52" height="45.50" fill="#56B4E9"/><rect x="176.20" y="271.20" width="10.52" height="84.40" fill="#009E73"/><rect x="189.76" y="273.10" width="10.52" height="82.50" fill="#CC79A7"/><rect x="201.48" y="274.20" width="10.52" height="81.40" fill="#0072B2"/><rect x="213.20" y="275.10" width="10.52" height="80.50" fill="#D55E00"/><path d="M157.00 336.30h3.0M157.00 343.05h3.0M158.50 336.30V343.05" stroke="#111" stroke-width="0.78" fill="none"/><path d="M168.00 304.10h3.0M168.00 315.30h3.0M169.50 304.10V315.30" stroke="#111" stroke-width="0.78" fill="none"/><path d="M179.00 262.90h3.0M179.00 278.30h3.0M180.50 262.90V278.30" stroke="#111" stroke-width="0.78" fill="none"/><path d="M194.00 265.30h3.0M194.00 280.30h3.0M195.50 265.30V280.30" stroke="#111" stroke-width="0.78" fill="none"/><path d="M205.00 266.40h3.0M205.00 281.30h3.0M206.50 266.40V281.30" stroke="#111" stroke-width="0.78" fill="none"/><path d="M216.00 267.30h3.0M216.00 282.20h3.0M217.50 267.30V282.20" stroke="#111" stroke-width="0.78" fill="none"/><text transform="translate(144.14 358.30) scale(1 1.08)" font-size="7.8" fill="#4d4d4d" text-anchor="end">0.000</text><text transform="translate(144.14 328.85) scale(1 1.08)" font-size="7.8" fill="#4d4d4d" text-anchor="end">0.020</text><text transform="translate(144.14 299.40) scale(1 1.08)" font-size="7.8" fill="#4d4d4d" text-anchor="end">0.040</text><text transform="translate(144.14 269.95) scale(1 1.08)" font-size="7.8" fill="#4d4d4d" text-anchor="end">0.060</text><text transform="translate(188.24 255.00) scale(1 1.12)" font-size="7.65" fill="#1a1a1a" text-anchor="middle">WHR</text>
<path d="M257.58 341.20H338.98" stroke="#ebebeb" stroke-width="0.4"/><path d="M257.58 312.40H338.98" stroke="#ebebeb" stroke-width="0.4"/><path d="M257.58 283.60H338.98" stroke="#ebebeb" stroke-width="0.4"/><path d="M257.58 355.60H338.98" stroke="#ebebeb" stroke-width="0.7"/><path d="M257.58 326.80H338.98" stroke="#ebebeb" stroke-width="0.7"/><path d="M257.58 298.00H338.98" stroke="#ebebeb" stroke-width="0.7"/><path d="M257.58 269.20H338.98" stroke="#ebebeb" stroke-width="0.7"/><path d="M279.78 258.20V360.00" stroke="#ebebeb" stroke-width="0.7"/><path d="M316.78 258.20V360.00" stroke="#ebebeb" stroke-width="0.7"/><rect x="262.80" y="300.20" width="10.52" height="55.40" fill="#E69F00"/><rect x="274.52" y="304.10" width="10.52" height="51.50" fill="#56B4E9"/><rect x="286.24" y="273.30" width="10.52" height="82.30" fill="#009E73"/><rect x="299.80" y="274.80" width="10.52" height="80.80" fill="#CC79A7"/><rect x="311.52" y="273.30" width="10.52" height="82.30" fill="#0072B2"/><rect x="323.24" y="275.70" width="10.52" height="79.90" fill="#D55E00"/><path d="M267.00 291.30h3.0M267.00 308.00h3.0M268.50 291.30V308.00" stroke="#111" stroke-width="0.78" fill="none"/><path d="M278.00 295.40h3.0M278.00 311.40h3.0M279.50 295.40V311.40" stroke="#111" stroke-width="0.78" fill="none"/><path d="M289.00 263.10h3.0M289.00 283.30h3.0M290.50 263.10V283.30" stroke="#111" stroke-width="0.78" fill="none"/><path d="M304.00 264.40h3.0M304.00 284.40h3.0M305.50 264.40V284.40" stroke="#111" stroke-width="0.78" fill="none"/><path d="M315.00 263.10h3.0M315.00 282.85h3.0M316.50 263.10V282.85" stroke="#111" stroke-width="0.78" fill="none"/><path d="M326.00 265.50h3.0M326.00 285.20h3.0M327.50 265.50V285.20" stroke="#111" stroke-width="0.78" fill="none"/><text transform="translate(254.18 358.30) scale(1 1.08)" font-size="7.8" fill="#4d4d4d" text-anchor="end">0.000</text><text transform="translate(254.18 329.50) scale(1 1.08)" font-size="7.8" fill="#4d4d4d" text-anchor="end">0.010</text><text transform="translate(254.18 300.70) scale(1 1.08)" font-size="7.8" fill="#4d4d4d" text-anchor="end">0.020</text><text transform="translate(254.18 271.90) scale(1 1.08)" font-size="7.8" fill="#4d4d4d" text-anchor="end">0.030</text><text transform="translate(298.28 255.00) scale(1 1.12)" font-size="7.65" fill="#1a1a1a" text-anchor="middle">DBP</text>
<path d="M367.62 340.45H449.02" stroke="#ebebeb" stroke-width="0.4"/><path d="M367.62 310.15H449.02" stroke="#ebebeb" stroke-width="0.4"/><path d="M367.62 279.85H449.02" stroke="#ebebeb" stroke-width="0.4"/><path d="M367.62 355.60H449.02" stroke="#ebebeb" stroke-width="0.7"/><path d="M367.62 325.30H449.02" stroke="#ebebeb" stroke-width="0.7"/><path d="M367.62 295.00H449.02" stroke="#ebebeb" stroke-width="0.7"/><path d="M367.62 264.70H449.02" stroke="#ebebeb" stroke-width="0.7"/><path d="M389.82 258.20V360.00" stroke="#ebebeb" stroke-width="0.7"/><path d="M426.82 258.20V360.00" stroke="#ebebeb" stroke-width="0.7"/><rect x="372.84" y="333.50" width="10.52" height="22.10" fill="#E69F00"/><rect x="384.56" y="296.90" width="10.52" height="58.70" fill="#56B4E9"/><rect x="396.28" y="274.20" width="10.52" height="81.40" fill="#009E73"/><rect x="409.84" y="273.80" width="10.52" height="81.80" fill="#CC79A7"/><rect x="421.56" y="275.10" width="10.52" height="80.50" fill="#0072B2"/><rect x="433.28" y="275.30" width="10.52" height="80.30" fill="#D55E00"/><path d="M377.00 327.50h3.0M377.00 338.30h3.0M378.50 327.50V338.30" stroke="#111" stroke-width="0.78" fill="none"/><path d="M388.00 287.60h3.0M388.00 305.20h3.0M389.50 287.60V305.20" stroke="#111" stroke-width="0.78" fill="none"/><path d="M399.00 263.40h3.0M399.00 284.15h3.0M400.50 263.40V284.15" stroke="#111" stroke-width="0.78" fill="none"/><path d="M414.00 262.90h3.0M414.00 283.30h3.0M415.50 262.90V283.30" stroke="#111" stroke-width="0.78" fill="none"/><path d="M425.00 264.40h3.0M425.00 284.60h3.0M426.50 264.40V284.60" stroke="#111" stroke-width="0.78" fill="none"/><path d="M436.00 264.70h3.0M436.00 285.00h3.0M437.50 264.70V285.00" stroke="#111" stroke-width="0.78" fill="none"/><text transform="translate(364.22 358.30) scale(1 1.08)" font-size="7.8" fill="#4d4d4d" text-anchor="end">0.000</text><text transform="translate(364.22 328.00) scale(1 1.08)" font-size="7.8" fill="#4d4d4d" text-anchor="end">0.010</text><text transform="translate(364.22 297.70) scale(1 1.08)" font-size="7.8" fill="#4d4d4d" text-anchor="end">0.020</text><text transform="translate(364.22 267.40) scale(1 1.08)" font-size="7.8" fill="#4d4d4d" text-anchor="end">0.030</text><text transform="translate(408.32 255.00) scale(1 1.12)" font-size="7.65" fill="#1a1a1a" text-anchor="middle">SBP</text>
<path d="M477.66 346.66H559.06" stroke="#ebebeb" stroke-width="0.4"/><path d="M477.66 328.77H559.06" stroke="#ebebeb" stroke-width="0.4"/><path d="M477.66 310.88H559.06" stroke="#ebebeb" stroke-width="0.4"/><path d="M477.66 292.99H559.06" stroke="#ebebeb" stroke-width="0.4"/><path d="M477.66 275.10H559.06" stroke="#ebebeb" stroke-width="0.4"/><path d="M477.66 355.60H559.06" stroke="#ebebeb" stroke-width="0.7"/><path d="M477.66 337.71H559.06" stroke="#ebebeb" stroke-width="0.7"/><path d="M477.66 319.82H559.06" stroke="#ebebeb" stroke-width="0.7"/><path d="M477.66 301.93H559.06" stroke="#ebebeb" stroke-width="0.7"/><path d="M477.66 284.04H559.06" stroke="#ebebeb" stroke-width="0.7"/><path d="M477.66 266.15H559.06" stroke="#ebebeb" stroke-width="0.7"/><path d="M499.86 258.20V360.00" stroke="#ebebeb" stroke-width="0.7"/><path d="M536.86 258.20V360.00" stroke="#ebebeb" stroke-width="0.7"/><rect x="482.88" y="352.80" width="10.52" height="2.80" fill="#E69F00"/><rect x="494.60" y="303.00" width="10.52" height="52.60" fill="#56B4E9"/><rect x="506.32" y="274.00" width="10.52" height="81.60" fill="#009E73"/><rect x="519.88" y="274.60" width="10.52" height="81.00" fill="#CC79A7"/><rect x="531.60" y="284.15" width="10.52" height="71.45" fill="#0072B2"/><rect x="543.32" y="277.00" width="10.52" height="78.60" fill="#D55E00"/><path d="M487.00 350.40h3.0M487.00 354.50h3.0M488.50 350.40V354.50" stroke="#111" stroke-width="0.78" fill="none"/><path d="M498.00 294.30h3.0M498.00 311.00h3.0M499.50 294.30V311.00" stroke="#111" stroke-width="0.78" fill="none"/><path d="M509.00 263.10h3.0M509.00 283.70h3.0M510.50 263.10V283.70" stroke="#111" stroke-width="0.78" fill="none"/><path d="M524.00 263.60h3.0M524.00 284.40h3.0M525.50 263.60V284.40" stroke="#111" stroke-width="0.78" fill="none"/><path d="M535.00 274.20h3.0M535.00 293.20h3.0M536.50 274.20V293.20" stroke="#111" stroke-width="0.78" fill="none"/><path d="M546.00 266.20h3.0M546.00 286.30h3.0M547.50 266.20V286.30" stroke="#111" stroke-width="0.78" fill="none"/><text transform="translate(474.26 358.30) scale(1 1.08)" font-size="7.8" fill="#4d4d4d" text-anchor="end">0.000</text><text transform="translate(474.26 340.41) scale(1 1.08)" font-size="7.8" fill="#4d4d4d" text-anchor="end">0.010</text><text transform="translate(474.26 322.52) scale(1 1.08)" font-size="7.8" fill="#4d4d4d" text-anchor="end">0.020</text><text transform="translate(474.26 304.63) scale(1 1.08)" font-size="7.8" fill="#4d4d4d" text-anchor="end">0.030</text><text transform="translate(474.26 286.74) scale(1 1.08)" font-size="7.8" fill="#4d4d4d" text-anchor="end">0.040</text><text transform="translate(474.26 268.85) scale(1 1.08)" font-size="7.8" fill="#4d4d4d" text-anchor="end">0.050</text><text transform="translate(518.36 255.00) scale(1 1.12)" font-size="7.65" fill="#1a1a1a" text-anchor="middle">Creatinine</text>
<path d="M587.70 344.10H669.10" stroke="#ebebeb" stroke-width="0.4"/><path d="M587.70 321.10H669.10" stroke="#ebebeb" stroke-width="0.4"/><path d="M587.70 298.10H669.10" stroke="#ebebeb" stroke-width="0.4"/><path d="M587.70 275.10H669.10" stroke="#ebebeb" stroke-width="0.4"/><path d="M587.70 355.60H669.10" stroke="#ebebeb" stroke-width="0.7"/><path d="M587.70 332.60H669.10" stroke="#ebebeb" stroke-width="0.7"/><path d="M587.70 309.60H669.10" stroke="#ebebeb" stroke-width="0.7"/><path d="M587.70 286.60H669.10" stroke="#ebebeb" stroke-width="0.7"/><path d="M587.70 263.60H669.10" stroke="#ebebeb" stroke-width="0.7"/><path d="M609.90 258.20V360.00" stroke="#ebebeb" stroke-width="0.7"/><path d="M646.90 258.20V360.00" stroke="#ebebeb" stroke-width="0.7"/><rect x="592.92" y="347.20" width="10.52" height="8.40" fill="#E69F00"/><rect x="604.64" y="291.30" width="10.52" height="64.30" fill="#56B4E9"/><rect x="616.36" y="295.40" width="10.52" height="60.20" fill="#009E73"/><rect x="629.92" y="300.20" width="10.52" height="55.40" fill="#CC79A7"/><rect x="641.64" y="301.50" width="10.52" height="54.10" fill="#0072B2"/><rect x="653.36" y="305.80" width="10.52" height="49.80" fill="#D55E00"/><path d="M597.00 334.40h3.0M597.00 353.40h3.0M598.50 334.40V353.40" stroke="#111" stroke-width="0.78" fill="none"/><path d="M608.00 263.10h3.0M608.00 314.25h3.0M609.50 263.10V314.25" stroke="#111" stroke-width="0.78" fill="none"/><path d="M619.00 267.50h3.0M619.00 317.50h3.0M620.50 267.50V317.50" stroke="#111" stroke-width="0.78" fill="none"/><path d="M634.00 273.30h3.0M634.00 321.20h3.0M635.50 273.30V321.20" stroke="#111" stroke-width="0.78" fill="none"/><path d="M645.00 275.30h3.0M645.00 322.30h3.0M646.50 275.30V322.30" stroke="#111" stroke-width="0.78" fill="none"/><path d="M656.00 280.25h3.0M656.00 325.50h3.0M657.50 280.25V325.50" stroke="#111" stroke-width="0.78" fill="none"/><text transform="translate(584.30 358.30) scale(1 1.08)" font-size="7.8" fill="#4d4d4d" text-anchor="end">0.000</text><text transform="translate(584.30 335.30) scale(1 1.08)" font-size="7.8" fill="#4d4d4d" text-anchor="end">0.010</text><text transform="translate(584.30 312.30) scale(1 1.08)" font-size="7.8" fill="#4d4d4d" text-anchor="end">0.020</text><text transform="translate(584.30 289.30) scale(1 1.08)" font-size="7.8" fill="#4d4d4d" text-anchor="end">0.030</text><text transform="translate(584.30 266.30) scale(1 1.08)" font-size="7.8" fill="#4d4d4d" text-anchor="end">0.040</text><text transform="translate(628.40 255.00) scale(1 1.12)" font-size="7.65" fill="#1a1a1a" text-anchor="middle">Urate</text>
<text transform="translate(672.00 309.40) rotate(90) scale(1 1.12)" font-size="7.65" fill="#1a1a1a" text-anchor="middle">Hispanic</text>
<path d="M37.50 460.53H118.90" stroke="#ebebeb" stroke-width="0.4"/><path d="M37.50 430.79H118.90" stroke="#ebebeb" stroke-width="0.4"/><path d="M37.50 401.05H118.90" stroke="#ebebeb" stroke-width="0.4"/><path d="M37.50 475.40H118.90" stroke="#ebebeb" stroke-width="0.7"/><path d="M37.50 445.66H118.90" stroke="#ebebeb" stroke-width="0.7"/><path d="M37.50 415.92H118.90" stroke="#ebebeb" stroke-width="0.7"/><path d="M37.50 386.18H118.90" stroke="#ebebeb" stroke-width="0.7"/><path d="M59.70 379.20V479.80" stroke="#ebebeb" stroke-width="0.7"/><path d="M96.70 379.20V479.80" stroke="#ebebeb" stroke-width="0.7"/><rect x="42.72" y="442.70" width="10.52" height="32.70" fill="#E69F00"/><rect x="54.44" y="412.20" width="10.52" height="63.20" fill="#56B4E9"/><rect x="66.16" y="391.60" width="10.52" height="83.80" fill="#009E73"/><rect x="79.72" y="394.20" width="10.52" height="81.20" fill="#CC79A7"/><rect x="91.44" y="396.40" width="10.52" height="79.00" fill="#0072B2"/><rect x="103.16" y="399.20" width="10.52" height="76.20" fill="#D55E00"/><path d="M47.00 437.50h3.0M47.00 447.00h3.0M48.50 437.50V447.00" stroke="#111" stroke-width="0.78" fill="none"/><path d="M58.00 405.45h3.0M58.00 418.00h3.0M59.50 405.45V418.00" stroke="#111" stroke-width="0.78" fill="none"/><path d="M69.00 384.20h3.0M69.00 398.30h3.0M70.50 384.20V398.30" stroke="#111" stroke-width="0.78" fill="none"/><path d="M84.00 386.40h3.0M84.00 401.10h3.0M85.50 386.40V401.10" stroke="#111" stroke-width="0.78" fill="none"/><path d="M95.00 389.20h3.0M95.00 403.10h3.0M96.50 389.20V403.10" stroke="#111" stroke-width="0.78" fill="none"/><path d="M106.00 392.20h3.0M106.00 406.10h3.0M107.50 392.20V406.10" stroke="#111" stroke-width="0.78" fill="none"/><text transform="translate(34.10 478.10) scale(1 1.08)" font-size="7.8" fill="#4d4d4d" text-anchor="end">0.000</text><text transform="translate(34.10 448.36) scale(1 1.08)" font-size="7.8" fill="#4d4d4d" text-anchor="end">0.020</text><text transform="translate(34.10 418.62) scale(1 1.08)" font-size="7.8" fill="#4d4d4d" text-anchor="end">0.040</text><text transform="translate(34.10 388.88) scale(1 1.08)" font-size="7.8" fill="#4d4d4d" text-anchor="end">0.060</text><text transform="translate(78.20 376.00) scale(1 1.12)" font-size="7.65" fill="#1a1a1a" text-anchor="middle">BMI</text><text transform="translate(59.70 487.00) scale(1 1.12)" font-size="5.3" fill="#4d4d4d" text-anchor="middle">Benchmarks</text><text transform="translate(96.70 487.00) scale(1 1.12)" font-size="5.3" fill="#4d4d4d" text-anchor="middle">Transfer Learning</text>
<path d="M147.54 463.54H228.94" stroke="#ebebeb" stroke-width="0.4"/><path d="M147.54 439.83H228.94" stroke="#ebebeb" stroke-width="0.4"/><path d="M147.54 416.12H228.94" stroke="#ebebeb" stroke-width="0.4"/><path d="M147.54 392.41H228.94" stroke="#ebebeb" stroke-width="0.4"/><path d="M147.54 475.40H228.94" stroke="#ebebeb" stroke-width="0.7"/><path d="M147.54 451.69H228.94" stroke="#ebebeb" stroke-width="0.7"/><path d="M147.54 427.98H228.94" stroke="#ebebeb" stroke-width="0.7"/><path d="M147.54 404.27H228.94" stroke="#ebebeb" stroke-width="0.7"/><path d="M147.54 380.56H228.94" stroke="#ebebeb" stroke-width="0.7"/><path d="M169.74 379.20V479.80" stroke="#ebebeb" stroke-width="0.7"/><path d="M206.74 379.20V479.80" stroke="#ebebeb" stroke-width="0.7"/><rect x="152.76" y="444.40" width="10.52" height="31.00" fill="#E69F00"/><rect x="164.48" y="403.30" width="10.52" height="72.10" fill="#56B4E9"/><rect x="176.20" y="396.10" width="10.52" height="79.30" fill="#009E73"/><rect x="189.76" y="398.30" width="10.52" height="77.10" fill="#CC79A7"/><rect x="201.48" y="398.95" width="10.52" height="76.45" fill="#0072B2"/><rect x="213.20" y="394.20" width="10.52" height="81.20" fill="#D55E00"/><path d="M157.00 438.40h3.0M157.00 450.30h3.0M158.50 438.40V450.30" stroke="#111" stroke-width="0.78" fill="none"/><path d="M168.00 393.80h3.0M168.00 411.90h3.0M169.50 393.80V411.90" stroke="#111" stroke-width="0.78" fill="none"/><path d="M179.00 386.20h3.0M179.00 405.20h3.0M180.50 386.20V405.20" stroke="#111" stroke-width="0.78" fill="none"/><path d="M194.00 388.30h3.0M194.00 407.40h3.0M195.50 388.30V407.40" stroke="#111" stroke-width="0.78" fill="none"/><path d="M205.00 389.40h3.0M205.00 407.60h3.0M206.50 389.40V407.60" stroke="#111" stroke-width="0.78" fill="none"/><path d="M216.00 384.20h3.0M216.00 403.30h3.0M217.50 384.20V403.30" stroke="#111" stroke-width="0.78" fill="none"/><text transform="translate(144.14 478.10) scale(1 1.08)" font-size="7.8" fill="#4d4d4d" text-anchor="end">0.000</text><text transform="translate(144.14 454.39) scale(1 1.08)" font-size="7.8" fill="#4d4d4d" text-anchor="end">0.025</text><text transform="translate(144.14 430.68) scale(1 1.08)" font-size="7.8" fill="#4d4d4d" text-anchor="end">0.050</text><text transform="translate(144.14 406.97) scale(1 1.08)" font-size="7.8" fill="#4d4d4d" text-anchor="end">0.075</text><text transform="translate(144.14 383.26) scale(1 1.08)" font-size="7.8" fill="#4d4d4d" text-anchor="end">0.100</text><text transform="translate(188.24 376.00) scale(1 1.12)" font-size="7.65" fill="#1a1a1a" text-anchor="middle">Triglycerides</text><text transform="translate(169.74 487.00) scale(1 1.12)" font-size="5.3" fill="#4d4d4d" text-anchor="middle">Benchmarks</text><text transform="translate(206.74 487.00) scale(1 1.12)" font-size="5.3" fill="#4d4d4d" text-anchor="middle">Transfer Learning</text>
<path d="M257.58 458.81H338.98" stroke="#ebebeb" stroke-width="0.4"/><path d="M257.58 425.64H338.98" stroke="#ebebeb" stroke-width="0.4"/><path d="M257.58 392.47H338.98" stroke="#ebebeb" stroke-width="0.4"/><path d="M257.58 475.40H338.98" stroke="#ebebeb" stroke-width="0.7"/><path d="M257.58 442.23H338.98" stroke="#ebebeb" stroke-width="0.7"/><path d="M257.58 409.06H338.98" stroke="#ebebeb" stroke-width="0.7"/><path d="M279.78 379.20V479.80" stroke="#ebebeb" stroke-width="0.7"/><path d="M316.78 379.20V479.80" stroke="#ebebeb" stroke-width="0.7"/><rect x="262.80" y="462.60" width="10.52" height="12.80" fill="#E69F00"/><rect x="274.52" y="408.90" width="10.52" height="66.50" fill="#56B4E9"/><rect x="286.24" y="401.30" width="10.52" height="74.10" fill="#009E73"/><rect x="299.80" y="403.30" width="10.52" height="72.10" fill="#CC79A7"/><rect x="311.52" y="412.20" width="10.52" height="63.20" fill="#0072B2"/><rect x="323.24" y="407.20" width="10.52" height="68.20" fill="#D55E00"/><path d="M267.00 454.60h3.0M267.00 468.50h3.0M268.50 454.60V468.50" stroke="#111" stroke-width="0.78" fill="none"/><path d="M278.00 392.50h3.0M278.00 423.00h3.0M279.50 392.50V423.00" stroke="#111" stroke-width="0.78" fill="none"/><path d="M289.00 384.20h3.0M289.00 416.30h3.0M290.50 384.20V416.30" stroke="#111" stroke-width="0.78" fill="none"/><path d="M304.00 386.20h3.0M304.00 418.00h3.0M305.50 386.20V418.00" stroke="#111" stroke-width="0.78" fill="none"/><path d="M315.00 395.90h3.0M315.00 426.00h3.0M316.50 395.90V426.00" stroke="#111" stroke-width="0.78" fill="none"/><path d="M326.00 390.50h3.0M326.00 421.50h3.0M327.50 390.50V421.50" stroke="#111" stroke-width="0.78" fill="none"/><text transform="translate(254.18 478.10) scale(1 1.08)" font-size="7.8" fill="#4d4d4d" text-anchor="end">0.000</text><text transform="translate(254.18 444.93) scale(1 1.08)" font-size="7.8" fill="#4d4d4d" text-anchor="end">0.020</text><text transform="translate(254.18 411.76) scale(1 1.08)" font-size="7.8" fill="#4d4d4d" text-anchor="end">0.040</text><text transform="translate(298.28 376.00) scale(1 1.12)" font-size="7.65" fill="#1a1a1a" text-anchor="middle">LDL</text><text transform="translate(279.78 487.00) scale(1 1.12)" font-size="5.3" fill="#4d4d4d" text-anchor="middle">Benchmarks</text><text transform="translate(316.78 487.00) scale(1 1.12)" font-size="5.3" fill="#4d4d4d" text-anchor="middle">Transfer Learning</text>
<path d="M367.62 460.85H449.02" stroke="#ebebeb" stroke-width="0.4"/><path d="M367.62 431.75H449.02" stroke="#ebebeb" stroke-width="0.4"/><path d="M367.62 402.65H449.02" stroke="#ebebeb" stroke-width="0.4"/><path d="M367.62 475.40H449.02" stroke="#ebebeb" stroke-width="0.7"/><path d="M367.62 446.30H449.02" stroke="#ebebeb" stroke-width="0.7"/><path d="M367.62 417.20H449.02" stroke="#ebebeb" stroke-width="0.7"/><path d="M367.62 388.10H449.02" stroke="#ebebeb" stroke-width="0.7"/><path d="M389.82 379.20V479.80" stroke="#ebebeb" stroke-width="0.7"/><path d="M426.82 379.20V479.80" stroke="#ebebeb" stroke-width="0.7"/><rect x="372.84" y="419.30" width="10.52" height="56.10" fill="#E69F00"/><rect x="384.56" y="411.10" width="10.52" height="64.30" fill="#56B4E9"/><rect x="396.28" y="393.10" width="10.52" height="82.30" fill="#009E73"/><rect x="409.84" y="397.20" width="10.52" height="78.20" fill="#CC79A7"/><rect x="421.56" y="394.40" width="10.52" height="81.00" fill="#0072B2"/><rect x="433.28" y="392.70" width="10.52" height="82.70" fill="#D55E00"/><path d="M377.00 411.95h3.0M377.00 425.80h3.0M378.50 411.95V425.80" stroke="#111" stroke-width="0.78" fill="none"/><path d="M388.00 403.50h3.0M388.00 417.80h3.0M389.50 403.50V417.80" stroke="#111" stroke-width="0.78" fill="none"/><path d="M399.00 384.40h3.0M399.00 400.90h3.0M400.50 384.40V400.90" stroke="#111" stroke-width="0.78" fill="none"/><path d="M414.00 388.60h3.0M414.00 405.00h3.0M415.50 388.60V405.00" stroke="#111" stroke-width="0.78" fill="none"/><path d="M425.00 385.50h3.0M425.00 402.20h3.0M426.50 385.50V402.20" stroke="#111" stroke-width="0.78" fill="none"/><path d="M436.00 384.20h3.0M436.00 400.25h3.0M437.50 384.20V400.25" stroke="#111" stroke-width="0.78" fill="none"/><text transform="translate(364.22 478.10) scale(1 1.08)" font-size="7.8" fill="#4d4d4d" text-anchor="end">0.000</text><text transform="translate(364.22 449.00) scale(1 1.08)" font-size="7.8" fill="#4d4d4d" text-anchor="end">0.040</text><text transform="translate(364.22 419.90) scale(1 1.08)" font-size="7.8" fill="#4d4d4d" text-anchor="end">0.080</text><text transform="translate(364.22 390.80) scale(1 1.08)" font-size="7.8" fill="#4d4d4d" text-anchor="end">0.120</text><text transform="translate(408.32 376.00) scale(1 1.12)" font-size="7.65" fill="#1a1a1a" text-anchor="middle">HDL</text><text transform="translate(389.82 487.00) scale(1 1.12)" font-size="5.3" fill="#4d4d4d" text-anchor="middle">Benchmarks</text><text transform="translate(426.82 487.00) scale(1 1.12)" font-size="5.3" fill="#4d4d4d" text-anchor="middle">Transfer Learning</text>
<path d="M477.66 465.03H559.06" stroke="#ebebeb" stroke-width="0.4"/><path d="M477.66 444.29H559.06" stroke="#ebebeb" stroke-width="0.4"/><path d="M477.66 423.55H559.06" stroke="#ebebeb" stroke-width="0.4"/><path d="M477.66 402.81H559.06" stroke="#ebebeb" stroke-width="0.4"/><path d="M477.66 382.07H559.06" stroke="#ebebeb" stroke-width="0.4"/><path d="M477.66 475.40H559.06" stroke="#ebebeb" stroke-width="0.7"/><path d="M477.66 454.66H559.06" stroke="#ebebeb" stroke-width="0.7"/><path d="M477.66 433.92H559.06" stroke="#ebebeb" stroke-width="0.7"/><path d="M477.66 413.18H559.06" stroke="#ebebeb" stroke-width="0.7"/><path d="M477.66 392.44H559.06" stroke="#ebebeb" stroke-width="0.7"/><path d="M499.86 379.20V479.80" stroke="#ebebeb" stroke-width="0.7"/><path d="M536.86 379.20V479.80" stroke="#ebebeb" stroke-width="0.7"/><rect x="482.88" y="457.40" width="10.52" height="18.00" fill="#E69F00"/><rect x="494.60" y="420.80" width="10.52" height="54.60" fill="#56B4E9"/><rect x="506.32" y="398.95" width="10.52" height="76.45" fill="#009E73"/><rect x="519.88" y="404.60" width="10.52" height="70.80" fill="#CC79A7"/><rect x="531.60" y="405.00" width="10.52" height="70.40" fill="#0072B2"/><rect x="543.32" y="398.70" width="10.52" height="76.70" fill="#D55E00"/><path d="M487.00 449.80h3.0M487.00 463.50h3.0M488.50 449.80V463.50" stroke="#111" stroke-width="0.78" fill="none"/><path d="M498.00 408.05h3.0M498.00 431.65h3.0M499.50 408.05V431.65" stroke="#111" stroke-width="0.78" fill="none"/><path d="M509.00 384.20h3.0M509.00 412.20h3.0M510.50 384.20V412.20" stroke="#111" stroke-width="0.78" fill="none"/><path d="M524.00 390.50h3.0M524.00 417.40h3.0M525.50 390.50V417.40" stroke="#111" stroke-width="0.78" fill="none"/><path d="M535.00 390.50h3.0M535.00 417.40h3.0M536.50 390.50V417.40" stroke="#111" stroke-width="0.78" fill="none"/><path d="M546.00 384.20h3.0M546.00 411.70h3.0M547.50 384.20V411.70" stroke="#111" stroke-width="0.78" fill="none"/><text transform="translate(474.26 478.10) scale(1 1.08)" font-size="7.8" fill="#4d4d4d" text-anchor="end">0.000</text><text transform="translate(474.26 457.36) scale(1 1.08)" font-size="7.8" fill="#4d4d4d" text-anchor="end">0.010</text><text transform="translate(474.26 436.62) scale(1 1.08)" font-size="7.8" fill="#4d4d4d" text-anchor="end">0.020</text><text transform="translate(474.26 415.88) scale(1 1.08)" font-size="7.8" fill="#4d4d4d" text-anchor="end">0.030</text><text transform="translate(474.26 395.14) scale(1 1.08)" font-size="7.8" fill="#4d4d4d" text-anchor="end">0.040</text><text transform="translate(518.36 376.00) scale(1 1.12)" font-size="7.65" fill="#1a1a1a" text-anchor="middle">Cholesterol</text><text transform="translate(499.86 487.00) scale(1 1.12)" font-size="5.3" fill="#4d4d4d" text-anchor="middle">Benchmarks</text><text transform="translate(536.86 487.00) scale(1 1.12)" font-size="5.3" fill="#4d4d4d" text-anchor="middle">Transfer Learning</text>
<path d="M587.70 466.17H669.10" stroke="#ebebeb" stroke-width="0.4"/><path d="M587.70 447.72H669.10" stroke="#ebebeb" stroke-width="0.4"/><path d="M587.70 429.27H669.10" stroke="#ebebeb" stroke-width="0.4"/><path d="M587.70 410.82H669.10" stroke="#ebebeb" stroke-width="0.4"/><path d="M587.70 392.38H669.10" stroke="#ebebeb" stroke-width="0.4"/><path d="M587.70 475.40H669.10" stroke="#ebebeb" stroke-width="0.7"/><path d="M587.70 456.95H669.10" stroke="#ebebeb" stroke-width="0.7"/><path d="M587.70 438.50H669.10" stroke="#ebebeb" stroke-width="0.7"/><path d="M587.70 420.05H669.10" stroke="#ebebeb" stroke-width="0.7"/><path d="M587.70 401.60H669.10" stroke="#ebebeb" stroke-width="0.7"/><path d="M587.70 383.15H669.10" stroke="#ebebeb" stroke-width="0.7"/><path d="M609.90 379.20V479.80" stroke="#ebebeb" stroke-width="0.7"/><path d="M646.90 379.20V479.80" stroke="#ebebeb" stroke-width="0.7"/><rect x="592.92" y="429.50" width="10.52" height="45.90" fill="#E69F00"/><rect x="604.64" y="410.20" width="10.52" height="65.20" fill="#56B4E9"/><rect x="616.36" y="387.50" width="10.52" height="87.90" fill="#009E73"/><rect x="629.92" y="390.10" width="10.52" height="85.30" fill="#CC79A7"/><rect x="641.64" y="389.40" width="10.52" height="86.00" fill="#0072B2"/><rect x="653.36" y="389.40" width="10.52" height="86.00" fill="#D55E00"/><path d="M597.00 427.10h3.0M597.00 431.90h3.0M598.50 427.10V431.90" stroke="#111" stroke-width="0.78" fill="none"/><path d="M608.00 407.40h3.0M608.00 412.80h3.0M609.50 407.40V412.80" stroke="#111" stroke-width="0.78" fill="none"/><path d="M619.00 384.20h3.0M619.00 390.50h3.0M620.50 384.20V390.50" stroke="#111" stroke-width="0.78" fill="none"/><path d="M634.00 386.40h3.0M634.00 393.30h3.0M635.50 386.40V393.30" stroke="#111" stroke-width="0.78" fill="none"/><path d="M645.00 386.20h3.0M645.00 392.50h3.0M646.50 386.20V392.50" stroke="#111" stroke-width="0.78" fill="none"/><path d="M656.00 386.20h3.0M656.00 392.50h3.0M657.50 386.20V392.50" stroke="#111" stroke-width="0.78" fill="none"/><text transform="translate(584.30 478.10) scale(1 1.08)" font-size="7.8" fill="#4d4d4d" text-anchor="end">0.000</text><text transform="translate(584.30 459.65) scale(1 1.08)" font-size="7.8" fill="#4d4d4d" text-anchor="end">0.050</text><text transform="translate(584.30 441.20) scale(1 1.08)" font-size="7.8" fill="#4d4d4d" text-anchor="end">0.100</text><text transform="translate(584.30 422.75) scale(1 1.08)" font-size="7.8" fill="#4d4d4d" text-anchor="end">0.150</text><text transform="translate(584.30 404.30) scale(1 1.08)" font-size="7.8" fill="#4d4d4d" text-anchor="end">0.200</text><text transform="translate(584.30 385.85) scale(1 1.08)" font-size="7.8" fill="#4d4d4d" text-anchor="end">0.250</text><text transform="translate(628.40 376.00) scale(1 1.12)" font-size="7.65" fill="#1a1a1a" text-anchor="middle">Height</text><text transform="translate(609.90 487.00) scale(1 1.12)" font-size="5.3" fill="#4d4d4d" text-anchor="middle">Benchmarks</text><text transform="translate(646.90 487.00) scale(1 1.12)" font-size="5.3" fill="#4d4d4d" text-anchor="middle">Transfer Learning</text>
<text transform="translate(672.00 429.80) rotate(90) scale(1 1.12)" font-size="7.65" fill="#1a1a1a" text-anchor="middle">Hispanic</text>
<text transform="translate(7.10 257.45) rotate(-90) scale(1 1.03)" font-size="8.93" fill="#000" text-anchor="middle">PGS Prediction squared correlation</text>
<text transform="translate(185.30 506.80) scale(1 1.03)" font-size="9.0" fill="#000">Method:</text>
<rect x="226.00" y="498.3" width="9.1" height="12" fill="#E69F00"/>
<text transform="translate(239.00 506.80) scale(1 1.03)" font-size="9.0" fill="#000">Within</text>
<rect x="271.90" y="498.3" width="9.1" height="12" fill="#56B4E9"/>
<text transform="translate(284.50 506.80) scale(1 1.03)" font-size="9.0" fill="#000">Cross</text>
<rect x="312.90" y="498.3" width="9.1" height="12" fill="#009E73"/>
<text transform="translate(325.60 506.80) scale(1 1.03)" font-size="9.0" fill="#000">Combined</text>
<rect x="375.40" y="498.3" width="9.1" height="12" fill="#CC79A7"/>
<text transform="translate(388.40 506.80) scale(1 1.03)" font-size="9.0" fill="#000">TL−GDES</text>
<rect x="431.30" y="498.3" width="9.1" height="12" fill="#0072B2"/>
<text transform="translate(444.20 506.80) scale(1 1.03)" font-size="9.0" fill="#000">TL−PR</text>
<rect x="472.70" y="498.3" width="9.1" height="12" fill="#D55E00"/>
<text transform="translate(485.90 506.80) scale(1 1.03)" font-size="9.0" fill="#000">TL−BMM</text>
</svg></body></html>
